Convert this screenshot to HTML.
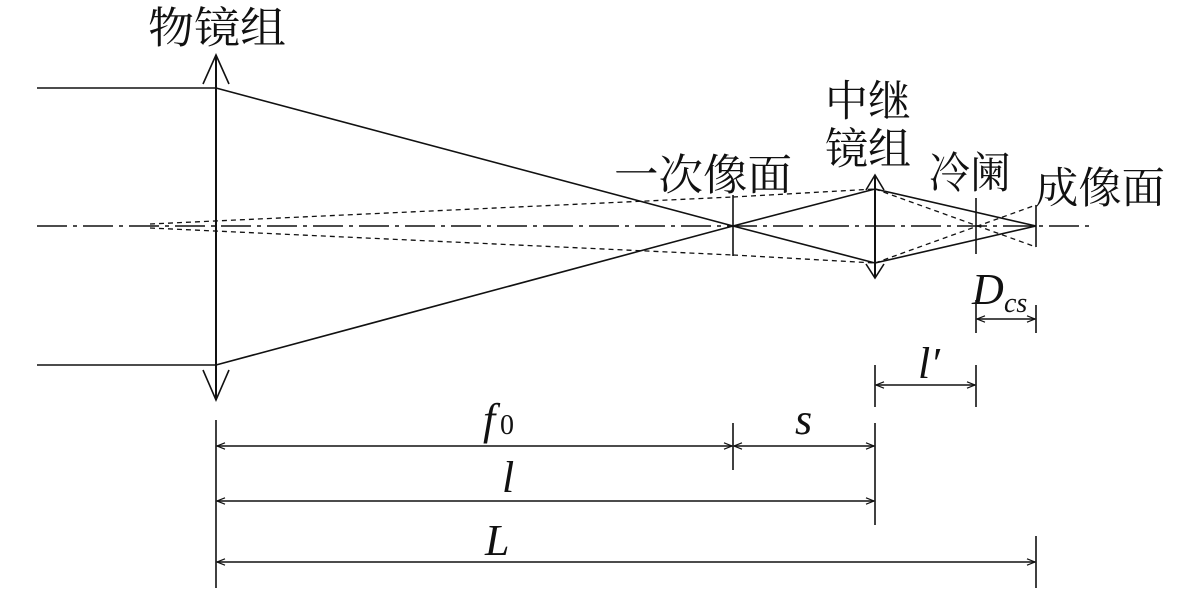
<!DOCTYPE html>
<html><head><meta charset="utf-8"><style>
html,body{margin:0;padding:0;background:#fff;}
svg{display:block}
.cn{font-family:"Liberation Serif","Noto Serif CJK SC","Noto Sans CJK SC",serif;font-size:43px;fill:#111}
.it{font-family:"Liberation Serif",serif;font-style:italic;font-size:44px;fill:#111}
</style></head><body>
<svg width="1181" height="598" viewBox="0 0 1181 598" xmlns="http://www.w3.org/2000/svg">
<defs>
<marker id="a" viewBox="0 0 10 10" refX="10" refY="5" markerWidth="10" markerHeight="8" orient="auto-start-reverse" markerUnits="userSpaceOnUse"><path d="M0,1 L10,5 L0,9" fill="none" stroke="#111" stroke-width="1.5"/></marker>
</defs>
<g stroke="#111" fill="none" stroke-width="1.6">
<line x1="37" y1="226" x2="1090" y2="226" stroke-dasharray="30,6,4,6" stroke-width="1.4"/>
<line x1="216" y1="55" x2="216" y2="400" stroke-width="2"/>
<polyline points="203,84 216,55 229,84"/>
<polyline points="203,370 216,400 229,370"/>
<line x1="37" y1="88" x2="216" y2="88"/>
<line x1="37" y1="365" x2="216" y2="365"/>
<line x1="216" y1="88" x2="733" y2="226"/>
<line x1="216" y1="365" x2="733" y2="226"/>
<line x1="733" y1="226" x2="875" y2="189"/>
<line x1="733" y1="226" x2="875" y2="263"/>
<line x1="875" y1="189" x2="1036" y2="226"/>
<line x1="875" y1="263" x2="1036" y2="226"/>
<g stroke-dasharray="5,4" stroke-width="1.3">
<line x1="150" y1="224" x2="733" y2="197"/>
<line x1="150" y1="228" x2="733" y2="255"/>
<line x1="733" y1="197" x2="875" y2="189"/>
<line x1="733" y1="255" x2="875" y2="263"/>
<line x1="875" y1="189" x2="1036" y2="247"/>
<line x1="875" y1="263" x2="1036" y2="205"/>
</g>
<line x1="733" y1="195" x2="733" y2="256"/>
<line x1="875" y1="175" x2="875" y2="278" stroke-width="2"/>
<polyline points="866,190 875,175 884,190"/>
<polyline points="866,264 875,278 884,264"/>
<line x1="976" y1="198" x2="976" y2="254"/>
<line x1="1036" y1="205" x2="1036" y2="247"/>
<line x1="976" y1="300" x2="976" y2="333"/>
<line x1="1036" y1="305" x2="1036" y2="333"/>
<line x1="977" y1="319" x2="1035" y2="319" marker-start="url(#a)" marker-end="url(#a)"/>
<line x1="875" y1="365" x2="875" y2="407"/>
<line x1="976" y1="365" x2="976" y2="407"/>
<line x1="876" y1="385" x2="975" y2="385" marker-start="url(#a)" marker-end="url(#a)"/>
<line x1="216" y1="420" x2="216" y2="588"/>
<line x1="733" y1="423" x2="733" y2="470"/>
<line x1="875" y1="423" x2="875" y2="525"/>
<line x1="1036" y1="536" x2="1036" y2="588"/>
<line x1="217" y1="446" x2="732" y2="446" marker-start="url(#a)" marker-end="url(#a)"/>
<line x1="734" y1="446" x2="874" y2="446" marker-start="url(#a)" marker-end="url(#a)"/>
<line x1="217" y1="501" x2="874" y2="501" marker-start="url(#a)" marker-end="url(#a)"/>
<line x1="217" y1="562" x2="1035" y2="562" marker-start="url(#a)" marker-end="url(#a)"/>
</g>
<text class="cn" x="148" y="43" textLength="138" lengthAdjust="spacingAndGlyphs">物镜组</text>
<text class="cn" x="614" y="190" textLength="178" lengthAdjust="spacingAndGlyphs">一次像面</text>
<text class="cn" x="825" y="116" textLength="86" lengthAdjust="spacingAndGlyphs">中继</text>
<text class="cn" x="825" y="164" textLength="86" lengthAdjust="spacingAndGlyphs">镜组</text>
<text class="cn" x="929" y="188" textLength="82" lengthAdjust="spacingAndGlyphs">冷阑</text>
<text class="cn" x="1035" y="203" textLength="130" lengthAdjust="spacingAndGlyphs">成像面</text>
<text class="it" x="972" y="304">D</text>
<text class="it" x="1004" y="312" style="font-size:28px">cs</text>
<text class="it" x="918" y="378">l′</text>
<text class="it" x="483" y="434">f</text>
<text x="500" y="434" style="font-family:'Liberation Serif',serif;font-size:28px;fill:#111">0</text>
<text class="it" x="795" y="434">s</text>
<text class="it" x="502" y="492">l</text>
<text class="it" x="485" y="555">L</text>
</svg>
</body></html>
